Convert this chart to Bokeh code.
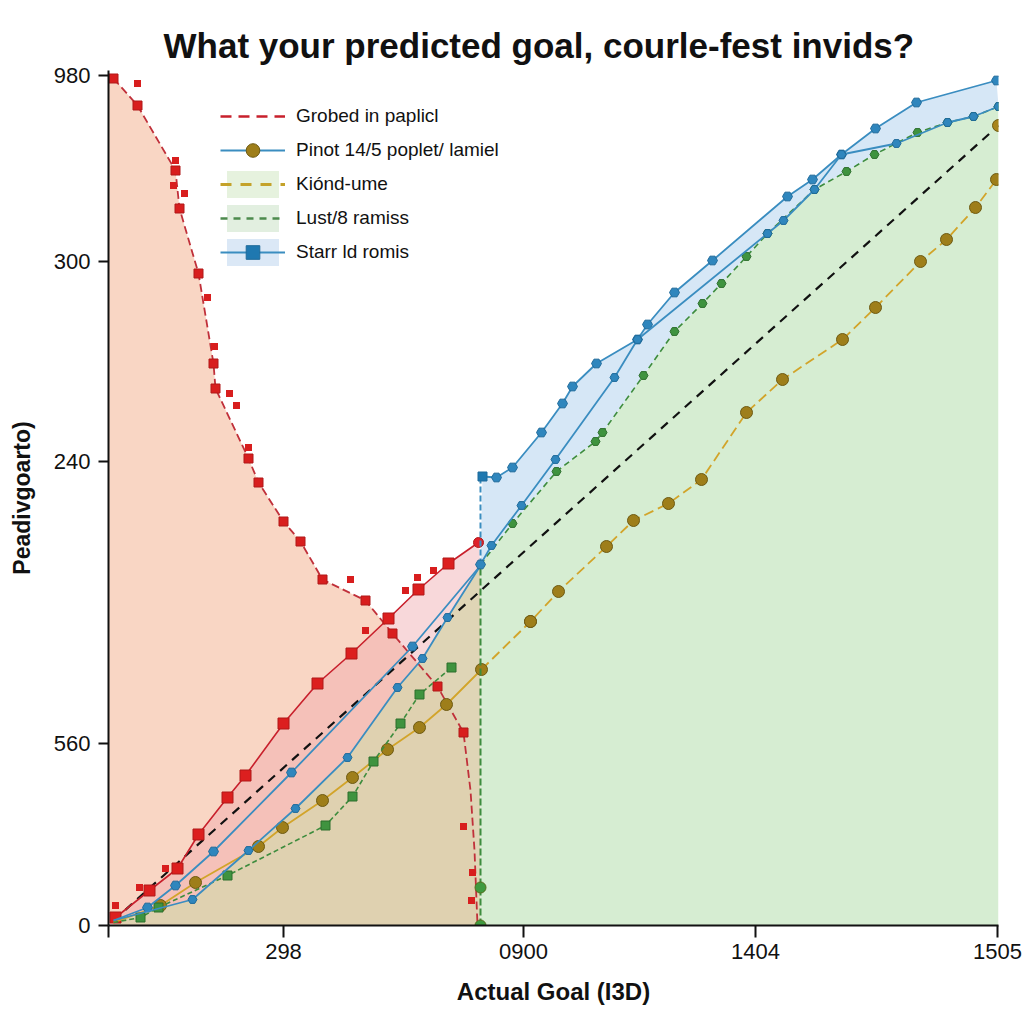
from bokeh.plotting import figure
from bokeh.models import Range1d, FixedTicker, Legend, LegendItem, CDSView, IndexFilter, ColumnDataSource
from bokeh.embed import file_html
from bokeh.resources import INLINE

# ---------------- data ----------------
title_text = "What your predicted goal, courle-fest invids?"
x_label = "Actual Goal (I3D)"
y_label = "Peadivgoarto)"
x_ticks = [0, 175, 415, 647, 889]
x_tick_labels = ["", "298", "0900", "1404", "1505"]
y_ticks = [0, 182, 464, 664, 850]
y_tick_labels = ["0", "560", "240", "300", "980"]

legend_labels = ["Grobed in paplicl", "Pinot 14/5 poplet/ lamiel", "Kiónd-ume",
                 "Lust/8 ramiss", "Starr ld romis"]

red_dash_x = [5, 29, 67, 71, 90, 105, 107, 140, 150, 175, 192, 214, 257, 284, 329, 355, 362, 366, 369]
red_dash_y = [847, 820, 755, 717, 652, 562, 537, 467, 443, 404, 384, 346, 325, 292, 239, 193, 135, 75, 0]

red_scatter_x = [29, 67, 65, 76, 99, 106, 121, 128, 140, 242, 309, 325, 297, 257, 355, 364, 363, 7, 7, 31, 57]
red_scatter_y = [842, 765, 740, 732, 628, 579, 532, 520, 478, 346, 348, 355, 335, 295, 99, 53, 25, 20, 10, 38, 57]

red_line_x = [7, 41, 69, 90, 119, 137, 175, 209, 243, 280, 310, 340, 370]
red_line_y = [8, 35, 57, 91, 128, 150, 202, 242, 272, 307, 336, 362, 383]

blue1_x = [5, 39, 67, 105, 183, 304, 372]
blue1_y = [5, 18, 40, 74, 153, 279, 360]

blue2_x = [5, 84, 140, 187, 239, 289, 314, 339, 372]
blue2_y = [5, 26, 75, 117, 168, 238, 267, 308, 360]

green_left_x = [5, 32, 50, 119, 217, 244, 265, 292, 311, 343]
green_left_y = [3, 8, 18, 50, 100, 129, 164, 202, 231, 258]

olive_left_x = [5, 52, 87, 150, 174, 214, 244, 279, 311, 338, 373]
olive_left_y = [3, 20, 43, 79, 98, 125, 148, 176, 198, 221, 256]

olive_right_x = [373, 422, 450, 498, 525, 560, 593, 638, 674, 734, 767, 812, 838, 867, 888]
olive_right_y = [256, 304, 334, 379, 405, 422, 446, 513, 546, 586, 618, 664, 686, 718, 746]

diag_x = [5, 890]
diag_y = [5, 800]

blue_up_x = [374, 388, 404, 433, 454, 464, 488, 529, 539, 566, 604, 679, 704, 733, 767, 808, 888]
blue_up_y = [449, 448, 458, 493, 522, 539, 562, 586, 601, 633, 665, 729, 746, 771, 797, 823, 845]

blue_low_x = [372, 383, 413, 447, 506, 529, 659, 675, 706, 733, 788, 839, 865, 890]
blue_low_y = [361, 380, 420, 466, 548, 586, 692, 705, 736, 771, 782, 803, 809, 819]

green_right_x = [372, 404, 448, 487, 494, 535, 566, 594, 613, 638, 659, 706, 738, 766, 809, 839, 865, 890]
green_right_y = [361, 402, 454, 484, 493, 550, 594, 622, 642, 669, 692, 736, 754, 771, 793, 803, 809, 819]

split_x = 372
split_blue_y = [361, 449]
split_green_y = [0, 361]
split_dots_y = [38, 0]
end_dot = (890, 800)
salmon_top_y = 853

# ---------------- figure ----------------
FONT = "Liberation Sans"
p = figure(width=1024, height=1024, output_backend="svg", toolbar_location=None,
           x_range=Range1d(0, 890), y_range=Range1d(0, 855),
           min_border_left=108, min_border_right=26, min_border_top=70, min_border_bottom=99,
           title=title_text)
p.background_fill_color = "white"
p.border_fill_color = "white"
p.outline_line_color = None
p.grid.visible = False

p.title.align = "left"
p.title.offset = 55
p.title.text_font = FONT
p.title.text_font_size = "35px"
p.title.text_font_style = "bold"
p.title.text_color = "#111111"
p.title.standoff = 12

# fills
salmon_x = [0, 0] + red_dash_x
salmon_y = [0, salmon_top_y] + red_dash_y
p.patch(salmon_x, salmon_y, fill_color="#f9d6c4", line_color=None)

p.varea(x=blue2_x, y1=[0] * len(blue2_x), y2=blue2_y, fill_color="#dcd0ae", fill_alpha=0.9)
pink_x = red_line_x + blue2_x[::-1]
pink_y = red_line_y + blue2_y[::-1]
p.patch(pink_x, pink_y, fill_color="#f0a9ae", fill_alpha=0.45, line_color=None)

p.varea(x=green_right_x, y1=[0] * len(green_right_x), y2=green_right_y, fill_color="#d6edd2")
p.patch(blue_up_x + green_right_x[::-1], blue_up_y + green_right_y[::-1],
        fill_color="#d6e7f6", line_color=None)

# diagonal
p.line(diag_x, diag_y, line_color="#111111", line_width=2.2, line_dash="9 7")

# red dashed curve
p.line(red_dash_x, red_dash_y, line_color="#c0303a", line_width=1.8, line_dash="8 4")
p.scatter(red_dash_x[:16], red_dash_y[:16], marker="square", size=9, fill_color="#d81e1e",
          line_color="#b01818")
p.scatter(red_scatter_x, red_scatter_y, marker="square", size=7, fill_color="#d81e1e",
          line_color=None)

# red solid line
p.line(red_line_x, red_line_y, line_color="#c8202c", line_width=1.6)
p.scatter(red_line_x[:-1], red_line_y[:-1], marker="square", size=11, fill_color="#dc1f1f",
          line_color="#b01818")
p.scatter(red_line_x[-1:], red_line_y[-1:], marker="circle", size=10, fill_color="#e0202a",
          line_color="#b01818")

# olive line
olive_src = ColumnDataSource(dict(x=olive_right_x, y=olive_right_y, y0=[0] * len(olive_right_x)))
p.line(olive_left_x, olive_left_y, line_color="#d2a42a", line_width=1.8)
p.line("x", "y", source=olive_src, line_color="#d2a42a", line_width=1.8, line_dash="10 5")
p.scatter(olive_left_x[1:] + olive_right_x[1:], olive_left_y[1:] + olive_right_y[1:],
          marker="circle", size=12, fill_color="#9e7e1a", line_color="#6e5a12")
p.scatter([end_dot[0]], [end_dot[1]], marker="circle", size=12, fill_color="#a8841c",
          line_color="#6e5a12")

# green dashed lines
p.line(green_left_x, green_left_y, line_color="#3d8c3d", line_width=1.6, line_dash="5 3")
p.scatter(green_left_x[1:], green_left_y[1:], marker="square", size=9, fill_color="#3f933f",
          line_color="#2d6e2d")
p.line(green_right_x, green_right_y, line_color="#3d8c3d", line_width=1.6, line_dash="6 4")
p.scatter(green_right_x[1:], green_right_y[1:], marker="hex", size=9, fill_color="#3f933f",
          line_color="#2d6e2d")

# blue lines
p.line(blue1_x, blue1_y, line_color="#3a8dc0", line_width=1.8)
p.scatter(blue1_x[1:-1], blue1_y[1:-1], marker="hex", size=10, fill_color="#2f86bd",
          line_color="#1f6a9a")
p.line(blue2_x, blue2_y, line_color="#3a8dc0", line_width=1.8)
p.scatter(blue2_x[1:-1], blue2_y[1:-1], marker="hex", size=9, fill_color="#2f86bd",
          line_color="#1f6a9a")
blue_src = ColumnDataSource(dict(x=blue_up_x, y=blue_up_y))
p.line("x", "y", source=blue_src, line_color="#3a8dc0", line_width=1.8)
p.scatter("x", "y", source=blue_src, view=CDSView(filter=IndexFilter(indices=list(range(1, len(blue_up_x))))),
          marker="hex", size=10, fill_color="#2f86bd", line_color="#1f6a9a")
p.line(blue_low_x, blue_low_y, line_color="#3a8dc0", line_width=1.8)
p.scatter(blue_low_x[1:], blue_low_y[1:], marker="hex", size=9, fill_color="#2f86bd",
          line_color="#1f6a9a")

# split lines at the boundary
p.line([split_x, split_x], split_blue_y, line_color="#3a8dc0", line_width=2, line_dash="6 3")
p.line([split_x, split_x], split_green_y, line_color="#3d8c3d", line_width=2, line_dash="7 3")
p.scatter([split_x] * 2, split_dots_y, marker="circle", size=11, fill_color="#3f9a3f",
          line_color="#556b1a")
p.scatter([split_x], [361], marker="hex", size=10, fill_color="#2f86bd", line_color="#1f6a9a")

# ---------------- legend renderers (single-point views: nothing visible in the plot) ----------------
one = CDSView(filter=IndexFilter(indices=[0]))
lg_red = p.line("x", "y", source=olive_src, view=one, line_color="#c8202c", line_width=2.6,
                line_dash="11 7")
lg_blue = p.line("x", "y", source=olive_src, view=one, line_color="#3a8dc0", line_width=2)
lg_brown = p.scatter("x", "y", source=olive_src, view=CDSView(filter=IndexFilter(indices=[1])),
                     marker="circle", size=12, fill_color="#9e7e1a", line_color="#6e5a12")
lg_bg_g1 = p.varea("x", "y0", "y", source=olive_src, view=one, fill_color="#e6f2de")
lg_bg_g2 = p.varea("x", "y0", "y", source=olive_src, view=one, fill_color="#e2efe0")
lg_bg_b = p.varea("x", "y0", "y", source=olive_src, view=one, fill_color="#dbe8f6")
lg_olive = p.line("x", "y", source=olive_src, view=one, line_color="#c4a22a", line_width=3,
                  line_dash="11 9")
lg_green = p.line("x", "y", source=olive_src, view=one, line_color="#4d8a4d", line_width=2.4,
                  line_dash="7 6")
lg_blue_sq = p.scatter("x", "y", source=blue_src, view=one, marker="square", size=9,
                       fill_color="#1f78b0", line_color="#1f6a9a")

# ---------------- axes ----------------
for ax in (p.xaxis, p.yaxis):
    ax.axis_line_width = 2
    ax.axis_line_color = "#111111"
    ax.major_tick_line_width = 2
    ax.major_tick_line_color = "#111111"
    ax.major_tick_in = 0
    ax.minor_tick_line_color = None
    ax.major_label_text_font = FONT
    ax.major_label_text_color = "#111111"
    ax.axis_label_text_font = FONT
    ax.axis_label_text_font_style = "bold"
    ax.axis_label_text_color = "#111111"

p.xaxis.ticker = FixedTicker(ticks=x_ticks)
p.xaxis.major_label_overrides = {t: l for t, l in zip(x_ticks, x_tick_labels)}
p.xaxis.major_tick_out = 12
p.xaxis.major_label_text_font_size = "22px"
p.xaxis.major_label_standoff = 6
p.xaxis.axis_label = x_label
p.xaxis.axis_label_text_font_size = "24px"
p.xaxis.axis_label_standoff = 16

p.yaxis.ticker = FixedTicker(ticks=y_ticks)
p.yaxis.major_label_overrides = {t: l for t, l in zip(y_ticks, y_tick_labels)}
p.yaxis.major_tick_out = 10
p.yaxis.major_label_text_font_size = "22px"
p.yaxis.major_label_standoff = 8
p.yaxis.axis_label = y_label
p.yaxis.axis_label_text_font_size = "23px"
p.yaxis.axis_label_standoff = 16

# ---------------- legend ----------------
legend = Legend(items=[
    LegendItem(label=legend_labels[0], renderers=[lg_red]),
    LegendItem(label=legend_labels[1], renderers=[lg_blue, lg_brown]),
    LegendItem(label=legend_labels[2], renderers=[lg_bg_g1, lg_olive]),
    LegendItem(label=legend_labels[3], renderers=[lg_bg_g2, lg_green]),
    LegendItem(label=legend_labels[4], renderers=[lg_bg_b, lg_blue, lg_blue_sq]),
], location=(112, 656))
legend.glyph_width = 65
legend.glyph_height = 34
legend.label_height = 34
legend.spacing = 0
legend.padding = 0
legend.margin = 0
legend.label_standoff = 11
legend.border_line_color = None
legend.background_fill_alpha = 0
legend.label_text_font = FONT
legend.label_text_font_size = "19px"
legend.label_text_color = "#111111"
p.add_layout(legend)

open("out.html", "w").write(file_html(p, INLINE))
